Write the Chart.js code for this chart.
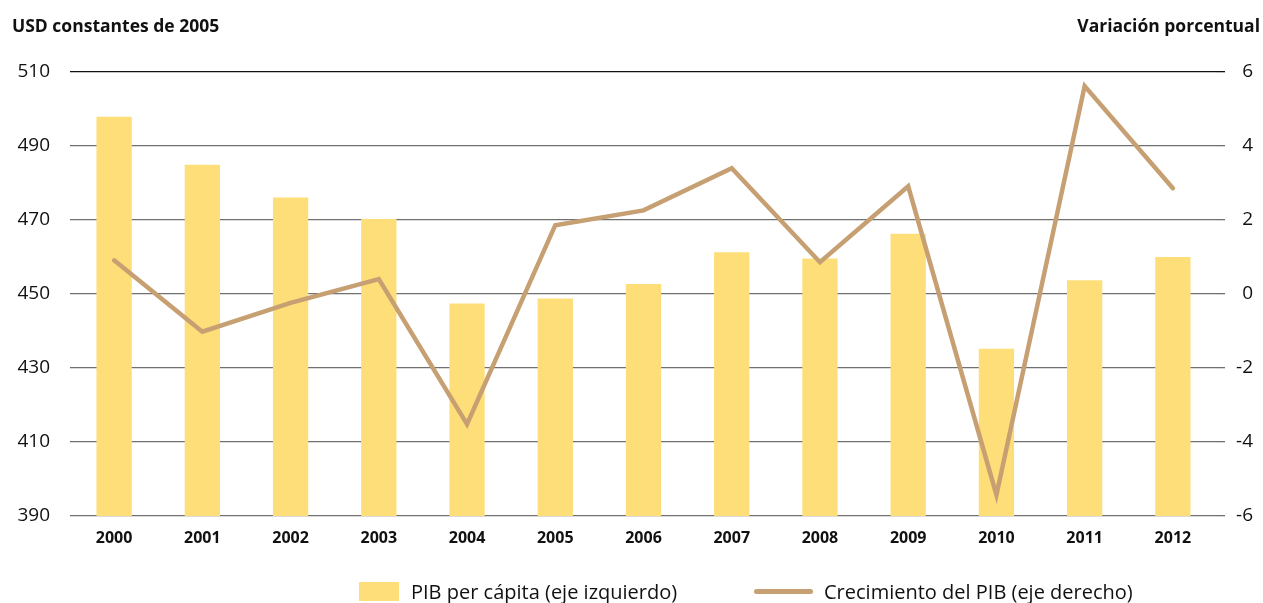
<!DOCTYPE html>
<html lang="es">
<head>
<meta charset="utf-8">
<title>PIB per cápita y crecimiento del PIB</title>
<script src="https://cdn.jsdelivr.net/npm/chart.js@4"></script>
<style>
  body { margin: 0; background: #fff; font-family: "Open Sans", sans-serif; color: #111; }
  .wrap { position: relative; width: 1263px; height: 603px; }
  canvas { position: absolute; left: 0; top: 0; }
  .axis_title { position: absolute; top: 13px; font-size: 17.5px; font-weight: bold; white-space: nowrap; }
  .axis_title.left { left: 12px; }
  .axis_title.right { right: 3px; }
  .legend_item { position: absolute; top: 577px; height: 28px; display: flex; align-items: center; font-size: 20px; white-space: nowrap; }
  .legend_box { width: 40px; height: 19px; background: #fede78; margin-right: 12px; }
  .legend_line { width: 59px; height: 5px; border-radius: 3px; background: #c6a072; margin-right: 11px; }
</style>
</head>
<body>
<div class="wrap">
  <canvas id="grafico" width="1263" height="603"></canvas>
  <div class="axis_title left">USD constantes de 2005</div>
  <div class="axis_title right">Variación porcentual</div>
  <div class="legend_item" style="left:359px"><span class="legend_box"></span>PIB per cápita (eje izquierdo)</div>
  <div class="legend_item" style="left:754px"><span class="legend_line"></span>Crecimiento del PIB (eje derecho)</div>
</div>
<script>
// años y series
const anios = ['2000', '2001', '2002', '2003', '2004', '2005', '2006', '2007', '2008', '2009', '2010', '2011', '2012'];
const pibPerCapita = [497.9, 484.9, 476.1, 470.3, 447.4, 448.8, 452.7, 461.3, 459.6, 466.3, 435.2, 453.7, 460.0];
const crecimientoPib = [0.91, -1.02, -0.24, 0.40, -3.52, 1.86, 2.26, 3.40, 0.86, 2.91, -5.43, 5.62, 2.86];

// ejes
const ejeIzq = { min: 390, max: 510, paso: 20 };
const ejeDer = { min: -6, max: 6, paso: 2 };

const colorBarra = '#fede78';
const colorLinea = '#c6a072';

// la línea superior (510 / 6) va en negro, el resto en gris
const colorGrilla = (ctx) => (ctx.tick && ctx.index === ctx.chart.scales.y.ticks.length - 1) ? '#111' : '#707070';

const ctx = document.getElementById('grafico').getContext('2d');
const chart = new Chart(ctx, {
  type: 'bar',
  data: {
    labels: anios,
    datasets: [
      {
        type: 'line',
        label: 'Crecimiento del PIB (eje derecho)',
        data: crecimientoPib,
        yAxisID: 'y1',
        borderColor: colorLinea,
        borderWidth: 4.5,
        borderCapStyle: 'round',
        borderJoinStyle: 'miter',
        pointRadius: 0,
        tension: 0,
        fill: false,
        order: 0
      },
      {
        type: 'bar',
        label: 'PIB per cápita (eje izquierdo)',
        data: pibPerCapita,
        yAxisID: 'y',
        backgroundColor: colorBarra,
        barPercentage: 0.4,
        categoryPercentage: 1.0,
        order: 1
      }
    ]
  },
  options: {
    responsive: false,
    animation: false,
    layout: { padding: { top: 72, right: 10, left: 0, bottom: 47 } },
    plugins: { legend: { display: false }, tooltip: { enabled: false } },
    scales: {
      x: {
        grid: { display: false },
        border: { display: false },
        ticks: { color: '#111', padding: 5, font: { family: 'Open Sans', size: 16, weight: 'bold' } },
        afterFit: (scale) => { scale.height = 40; }
      },
      y: {
        position: 'left',
        min: ejeIzq.min,
        max: ejeIzq.max,
        grid: { color: colorGrilla, lineWidth: 1.3, drawTicks: false },
        border: { display: false },
        ticks: { stepSize: ejeIzq.paso, color: '#111', padding: 20, font: { family: 'Open Sans', size: 19 } },
        afterFit: (scale) => { scale.width = 70; }
      },
      y1: {
        position: 'right',
        min: ejeDer.min,
        max: ejeDer.max,
        grid: { drawOnChartArea: false, drawTicks: true, tickLength: 8, color: colorGrilla, lineWidth: 1.3 },
        border: { display: false },
        ticks: { stepSize: ejeDer.paso, color: '#111', crossAlign: 'far', font: { family: 'Open Sans', size: 19 } },
        afterFit: (scale) => { scale.width = 36; }
      }
    }
  }
});
</script>
</body>
</html>
